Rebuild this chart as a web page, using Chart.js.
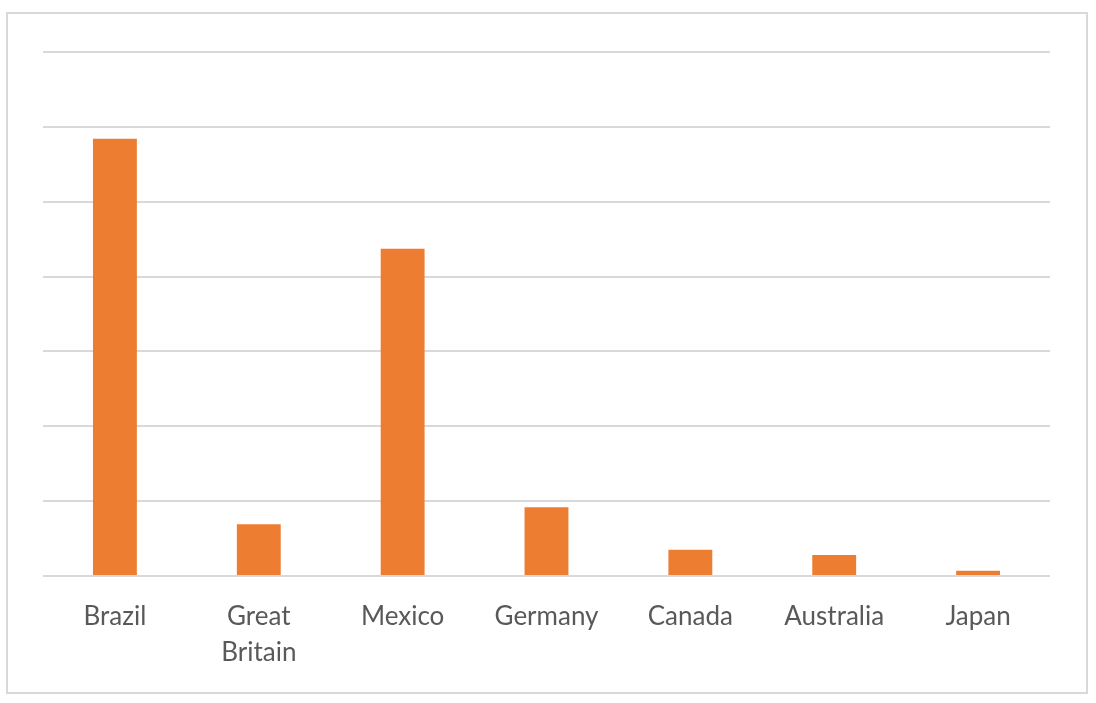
<!DOCTYPE html>
<html>
<head>
<meta charset="utf-8">
<script src="https://cdn.jsdelivr.net/npm/chart.js@4"></script>
<style>
  body { margin: 0; background: #fff; }
  #box {
    position: absolute; left: 6px; top: 12px;
    width: 1082px; height: 682px;
    border: 2px solid #d9d9d9; box-sizing: border-box;
  }
  #chart { display: block; }
</style>
</head>
<body>
<div id="box"><canvas id="chart" width="1078" height="678"></canvas></div>
<script>
// categories along the x-axis
let countries = ['Brazil', ['Great', 'Britain'], 'Mexico', 'Germany', 'Canada', 'Australia', 'Japan'];
// bar heights (one gridline = 1 unit)
let values = [5.84, 0.69, 4.37, 0.92, 0.35, 0.28, 0.07];
let yMax = 7;

const ctx = document.getElementById('chart');

new Chart(ctx, {
  type: 'bar',
  data: {
    labels: countries,
    datasets: [
      {
        data: values,
        backgroundColor: '#ED7D31',
        borderWidth: 0,
        categoryPercentage: 1,
        barPercentage: 0.305
      }
    ]
  },
  options: {
    responsive: false,
    animation: false,
    layout: { padding: { left: 35, right: 36, top: 38, bottom: 0 } },
    plugins: {
      legend: { display: false },
      tooltip: { enabled: false }
    },
    scales: {
      x: {
        afterFit: (scale) => { scale.height = 116; },
        grid: { display: false, drawTicks: false },
        border: { display: false },
        ticks: {
          color: '#595959',
          font: { family: 'Lato', size: 26, lineHeight: 1.385 },
          padding: 23,
          maxRotation: 0
        }
      },
      y: {
        min: 0,
        max: yMax,
        afterFit: (scale) => { scale.width = 0; },
        grid: { color: '#d9d9d9', lineWidth: 2, drawTicks: false },
        border: { display: false },
        ticks: { display: false, stepSize: 1 }
      }
    }
  }
});
</script>
</body>
</html>
